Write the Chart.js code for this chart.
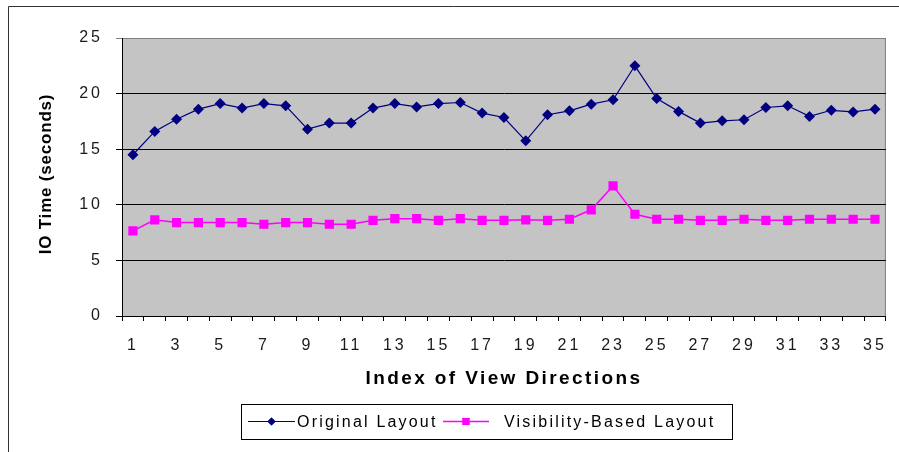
<!DOCTYPE html>
<html>
<head>
<meta charset="utf-8">
<script src="https://cdn.jsdelivr.net/npm/chart.js@4.4.1/dist/chart.umd.min.js"></script>
<style>
  body { margin: 0; background: #fff; }
  canvas { display: block; }
</style>
</head>
<body>
<canvas id="chartIO" width="899" height="452"></canvas>
<script>
// Data
const directions = [];
for (let i = 1; i <= 35; i++) directions.push(String(i));

const originalLayout = [
  14.5, 16.6, 17.7, 18.6, 19.1, 18.7, 19.1, 18.9, 16.8, 17.35,
  17.35, 18.7, 19.1, 18.8, 19.1, 19.2, 18.25, 17.85, 15.75, 18.1,
  18.45, 19.05, 19.45, 22.5, 19.55, 18.4, 17.35, 17.55, 17.65, 18.75,
  18.9, 17.95, 18.5, 18.35, 18.6
];
const visibilityLayout = [
  7.65, 8.65, 8.4, 8.4, 8.4, 8.4, 8.25, 8.4, 8.4, 8.25,
  8.25, 8.6, 8.75, 8.75, 8.6, 8.75, 8.6, 8.6, 8.65, 8.6,
  8.7, 9.55, 11.7, 9.15, 8.7, 8.7, 8.6, 8.6, 8.7, 8.6,
  8.6, 8.7, 8.7, 8.7, 8.7
];
const seriesNames = ["Original Layout", "Visibility-Based Layout"];
const yTicks = [0, 5, 10, 15, 20, 25];

const FONT = "'Liberation Sans', Arial, sans-serif";

// background, frame, axis titles and the boxed legend (Excel style)
const excelLook = {
  id: "excelLook",
  beforeDraw(chart) {
    const { ctx, chartArea: a } = chart;
    ctx.save();
    ctx.fillStyle = "#c4c4c4";
    ctx.fillRect(a.left, a.top, a.right - a.left, a.bottom - a.top);
    ctx.strokeStyle = "#808080";
    ctx.lineWidth = 1;
    ctx.beginPath();
    ctx.moveTo(a.left, a.top + 0.5);
    ctx.lineTo(a.right - 0.5, a.top + 0.5);
    ctx.lineTo(a.right - 0.5, a.bottom);
    ctx.stroke();
    // outer frame
    ctx.strokeStyle = "#333";
    ctx.beginPath();
    ctx.moveTo(8.5, chart.height);
    ctx.lineTo(8.5, 6.5);
    ctx.lineTo(chart.width, 6.5);
    ctx.stroke();
    ctx.restore();
    ctx.letterSpacing = "3px";
  },
  afterDraw(chart) {
    const { ctx, chartArea: a } = chart;
    ctx.save();
    ctx.fillStyle = "#000";
    ctx.textAlign = "center";
    ctx.textBaseline = "middle";

    // y title
    ctx.save();
    ctx.letterSpacing = "0.8px";
    ctx.font = "bold 17px " + FONT;
    ctx.translate(46, (a.top + a.bottom) / 2 - 3);
    ctx.rotate(-Math.PI / 2);
    ctx.fillText("IO Time (seconds)", 0, 0);
    ctx.restore();

    // x title
    ctx.letterSpacing = "2.4px";
    ctx.font = "bold 19px " + FONT;
    ctx.fillText("Index of View Directions", (a.left + a.right) / 2, 379);

    // legend
    const ds = chart.data.datasets;
    const boxL = 241, boxR = 732, boxT = 404, boxB = 439;
    const cy = (boxT + boxB) / 2;
    ctx.strokeStyle = "#000";
    ctx.lineWidth = 1;
    ctx.strokeRect(boxL + 0.5, boxT + 0.5, boxR - boxL, boxB - boxT);
    ctx.letterSpacing = "2.2px";
    ctx.font = "16px " + FONT;
    ctx.textAlign = "left";
    const items = [
      { x0: 248, x1: 295, tx: 297, r: 4 },
      { x0: 443, x1: 489, tx: 504, r: 5 }
    ];
    items.forEach((it, i) => {
      const d = ds[i];
      ctx.strokeStyle = d.borderColor;
      ctx.lineWidth = d.borderWidth;
      ctx.beginPath();
      ctx.moveTo(it.x0, cy);
      ctx.lineTo(it.x1, cy);
      ctx.stroke();
      ctx.fillStyle = d.pointBackgroundColor;
      ctx.beginPath();
      Chart.helpers.drawPoint(ctx, {
        pointStyle: d.pointStyle,
        radius: it.r,
        borderWidth: 0
      }, (it.x0 + it.x1) / 2, cy);
      ctx.fill();
      ctx.fillStyle = "#000";
      ctx.fillText(d.label, it.tx, cy + 1);
    });
    ctx.restore();
  }
};

const ctx = document.getElementById("chartIO").getContext("2d");
new Chart(ctx, {
  type: "line",
  data: {
    labels: directions,
    datasets: [
      {
        label: seriesNames[0],
        data: originalLayout,
        borderColor: "#000080",
        backgroundColor: "#000080",
        pointBackgroundColor: "#000080",
        pointBorderColor: "#000080",
        borderWidth: 1.2,
        pointStyle: "rectRot",
        pointRadius: 5.5,
        pointBorderWidth: 0,
        tension: 0
      },
      {
        label: seriesNames[1],
        data: visibilityLayout,
        borderColor: "#ff00ff",
        backgroundColor: "#ff00ff",
        pointBackgroundColor: "#ff00ff",
        pointBorderColor: "#ff00ff",
        borderWidth: 1.5,
        pointStyle: "rect",
        pointRadius: 6.5,
        pointBorderWidth: 0,
        tension: 0
      }
    ]
  },
  options: {
    responsive: false,
    animation: false,
    layout: {
      autoPadding: false,
      padding: { top: 38, right: 9, left: 0, bottom: 0 }
    },
    plugins: {
      legend: { display: false },
      tooltip: { enabled: false }
    },
    scales: {
      x: {
        offset: true,
        afterFit(scale) { scale.height = 136; },
        grid: {
          offset: true,
          drawOnChartArea: false,
          drawTicks: true,
          tickLength: 5,
          color: "#000"
        },
        border: { display: true, color: "#000", width: 1 },
        ticks: {
          autoSkip: false,
          maxRotation: 0,
          minRotation: 0,
          padding: 15,
          color: "#1a1a1a",
          font: { family: FONT, size: 16 },
          callback: function (value, index) {
            return index % 2 === 0 ? directions[index] : "";
          }
        }
      },
      y: {
        min: yTicks[0],
        max: yTicks[yTicks.length - 1],
        afterFit(scale) { scale.width = 122; },
        afterBuildTicks(scale) {
          scale.ticks = yTicks.map(v => ({ value: v }));
        },
        grid: {
          color: c => (c.tick && c.tick.value === 25 ? "#808080" : "#000"),
          lineWidth: 1,
          drawTicks: true,
          tickLength: 6
        },
        border: { display: true, color: "#000", width: 1 },
        ticks: {
          padding: 13,
          color: "#1a1a1a",
          font: { family: FONT, size: 16 }
        }
      }
    }
  },
  plugins: [excelLook]
});
</script>
</body>
</html>
